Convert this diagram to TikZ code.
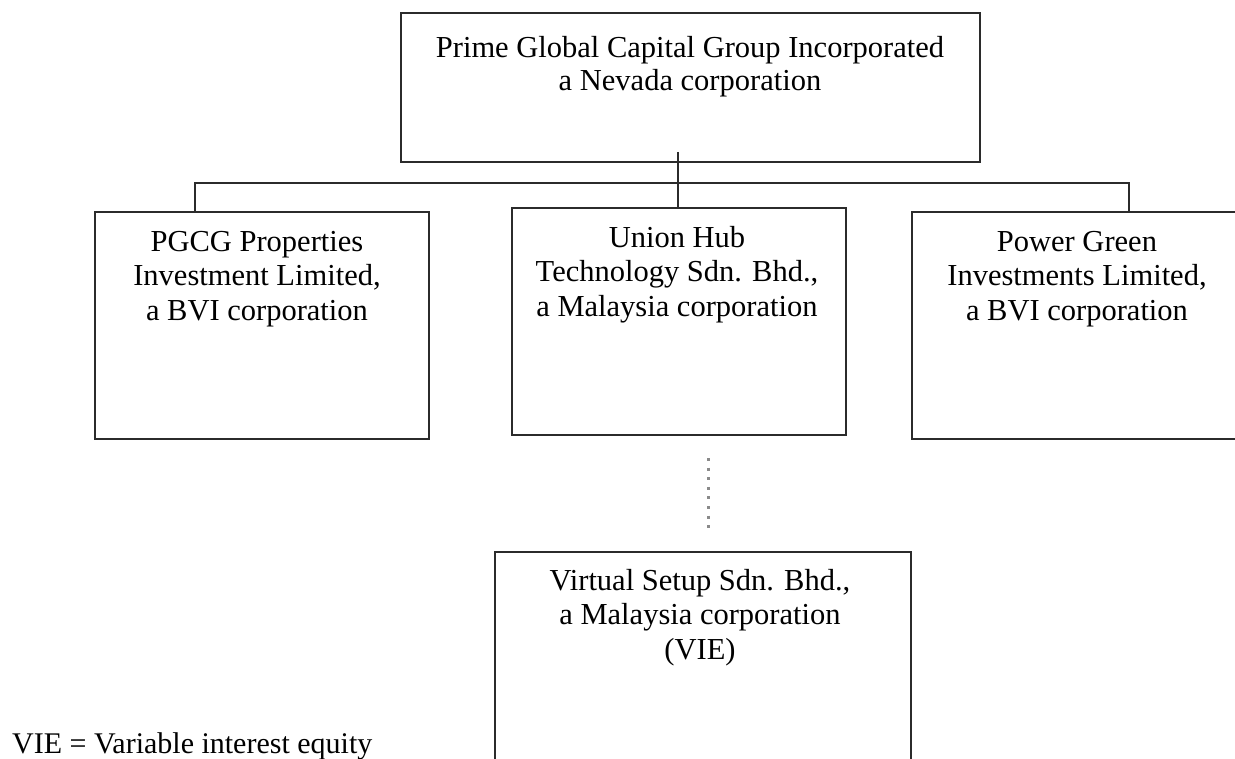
\documentclass[tikz,border=0pt]{standalone}
\usepackage{fontspec}
\setmainfont{Liberation Serif}
\definecolor{ink}{HTML}{2B2B2B}
\definecolor{dotc}{HTML}{8A8A8A}
\tikzset{
  box/.style={draw=ink, line width=2pt, rectangle, inner sep=0pt},
  lbl/.style={anchor=north, align=center, inner sep=0pt, text=black,
              font=\fontsize{30.5}{34.5}\selectfont},
  link/.style={draw=ink, line width=2pt},
  vielink/.style={draw=dotc, line width=3pt, dash pattern=on 3pt off 6.6pt}
}
\begin{document}
\begin{tikzpicture}[x=1pt,y=-1pt]
\useasboundingbox (0,0) rectangle (1235,759);
% boxes
\node[box, minimum width=579pt, minimum height=149pt] (top) at (690.5,87.5) {};
\node[box, minimum width=334pt, minimum height=227pt] (left) at (262,325.5) {};
\node[box, minimum width=334pt, minimum height=227pt] (mid) at (679,321.5) {};
\node[box, minimum width=334pt, minimum height=227pt] (right) at (1079,325.5) {};
\node[box, minimum width=416pt, minimum height=228pt] (bot) at (703,666) {};
% texts
\node[lbl, font=\fontsize{30.5}{33.5}\selectfont] (toptxt) at (690,36) {Prime Global Capital Group Incorporated\\a Nevada corporation};
\node[lbl] (lefttxt) at (257,231) {PGCG Properties\\Investment Limited,\\a BVI corporation};
\node[lbl] (midtxt) at (677,226) {Union Hub\\Technology Sdn. Bhd.,\\a Malaysia corporation};
\node[lbl] (righttxt) at (1077,231) {Power Green\\Investments Limited,\\a BVI corporation};
\node[lbl] (bottxt) at (700,569) {Virtual Setup Sdn. Bhd.,\\a Malaysia corporation\\(VIE)};
\node[anchor=base west, inner sep=0pt, font=\fontsize{30}{34}\selectfont] (legend) at (12,753) {VIE = Variable interest equity};
% connectors
\coordinate (lj) at (195,183);
\coordinate (rj) at (1129,183);
\coordinate (tj) at (678,152);
\draw[link] (tj) -- (tj |- mid.north);
\draw[link] (lj |- left.north) -- (lj) -- (rj) -- (rj |- right.north);
\coordinate (vs) at (708,458);
\coordinate (ve) at (708,528);
\draw[vielink] (vs) -- (ve);
\end{tikzpicture}
\end{document}
